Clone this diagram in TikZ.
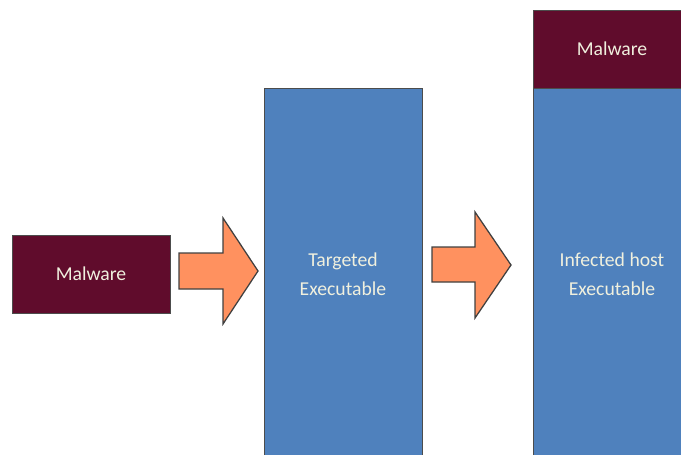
\documentclass[tikz,border=0pt]{standalone}
\usepackage{fontspec}
\setmainfont{Carlito}
\usepackage{tikz}

\definecolor{malred}{RGB}{96,12,44}
\definecolor{exeblue}{RGB}{79,129,189}
\definecolor{arrorange}{RGB}{255,145,95}
\definecolor{labelcream}{RGB}{240,240,222}

\tikzset{
  box/.style={draw=black!70, line width=0.6pt, minimum width=3.95cm, align=center,
    text=labelcream, font=\fontsize{14}{21}\selectfont},
  malbox/.style={box, fill=malred, minimum height=1.95cm},
  exebox/.style={box, fill=exeblue, minimum height=9.3cm},
  bigarrow/.style={draw=black!75, line width=0.9pt, fill=arrorange, line join=miter}
}

\begin{document}
\begin{tikzpicture}[x=0.025cm, y=-0.025cm]
        \useasboundingbox (0,0) rectangle (681,454);
        \clip (0,0) rectangle (681,454);

        % Draw the malware before infection
        \node[malbox] (mal) at (91,274) {Malware};

        % Draw the targeted executable
        \node[exebox] (target) at (343,274) {Targeted\\Executable};

        % Draw the infected host with the malware on top
        \node[exebox] (infected) at (612,274) {Infected host\\Executable};
        \node[malbox] (malhost) at (612,49) {Malware};

        % Draw the two block arrows
        \draw[bigarrow] (179,253) -- (223,253) -- (223,218) -- (258,271)
            -- (223,324) -- (223,289) -- (179,289) -- cycle;
        \draw[bigarrow] (432,247) -- (475,247) -- (475,212) -- (511,265)
            -- (475,318) -- (475,282) -- (432,282) -- cycle;

\end{tikzpicture}
\end{document}
